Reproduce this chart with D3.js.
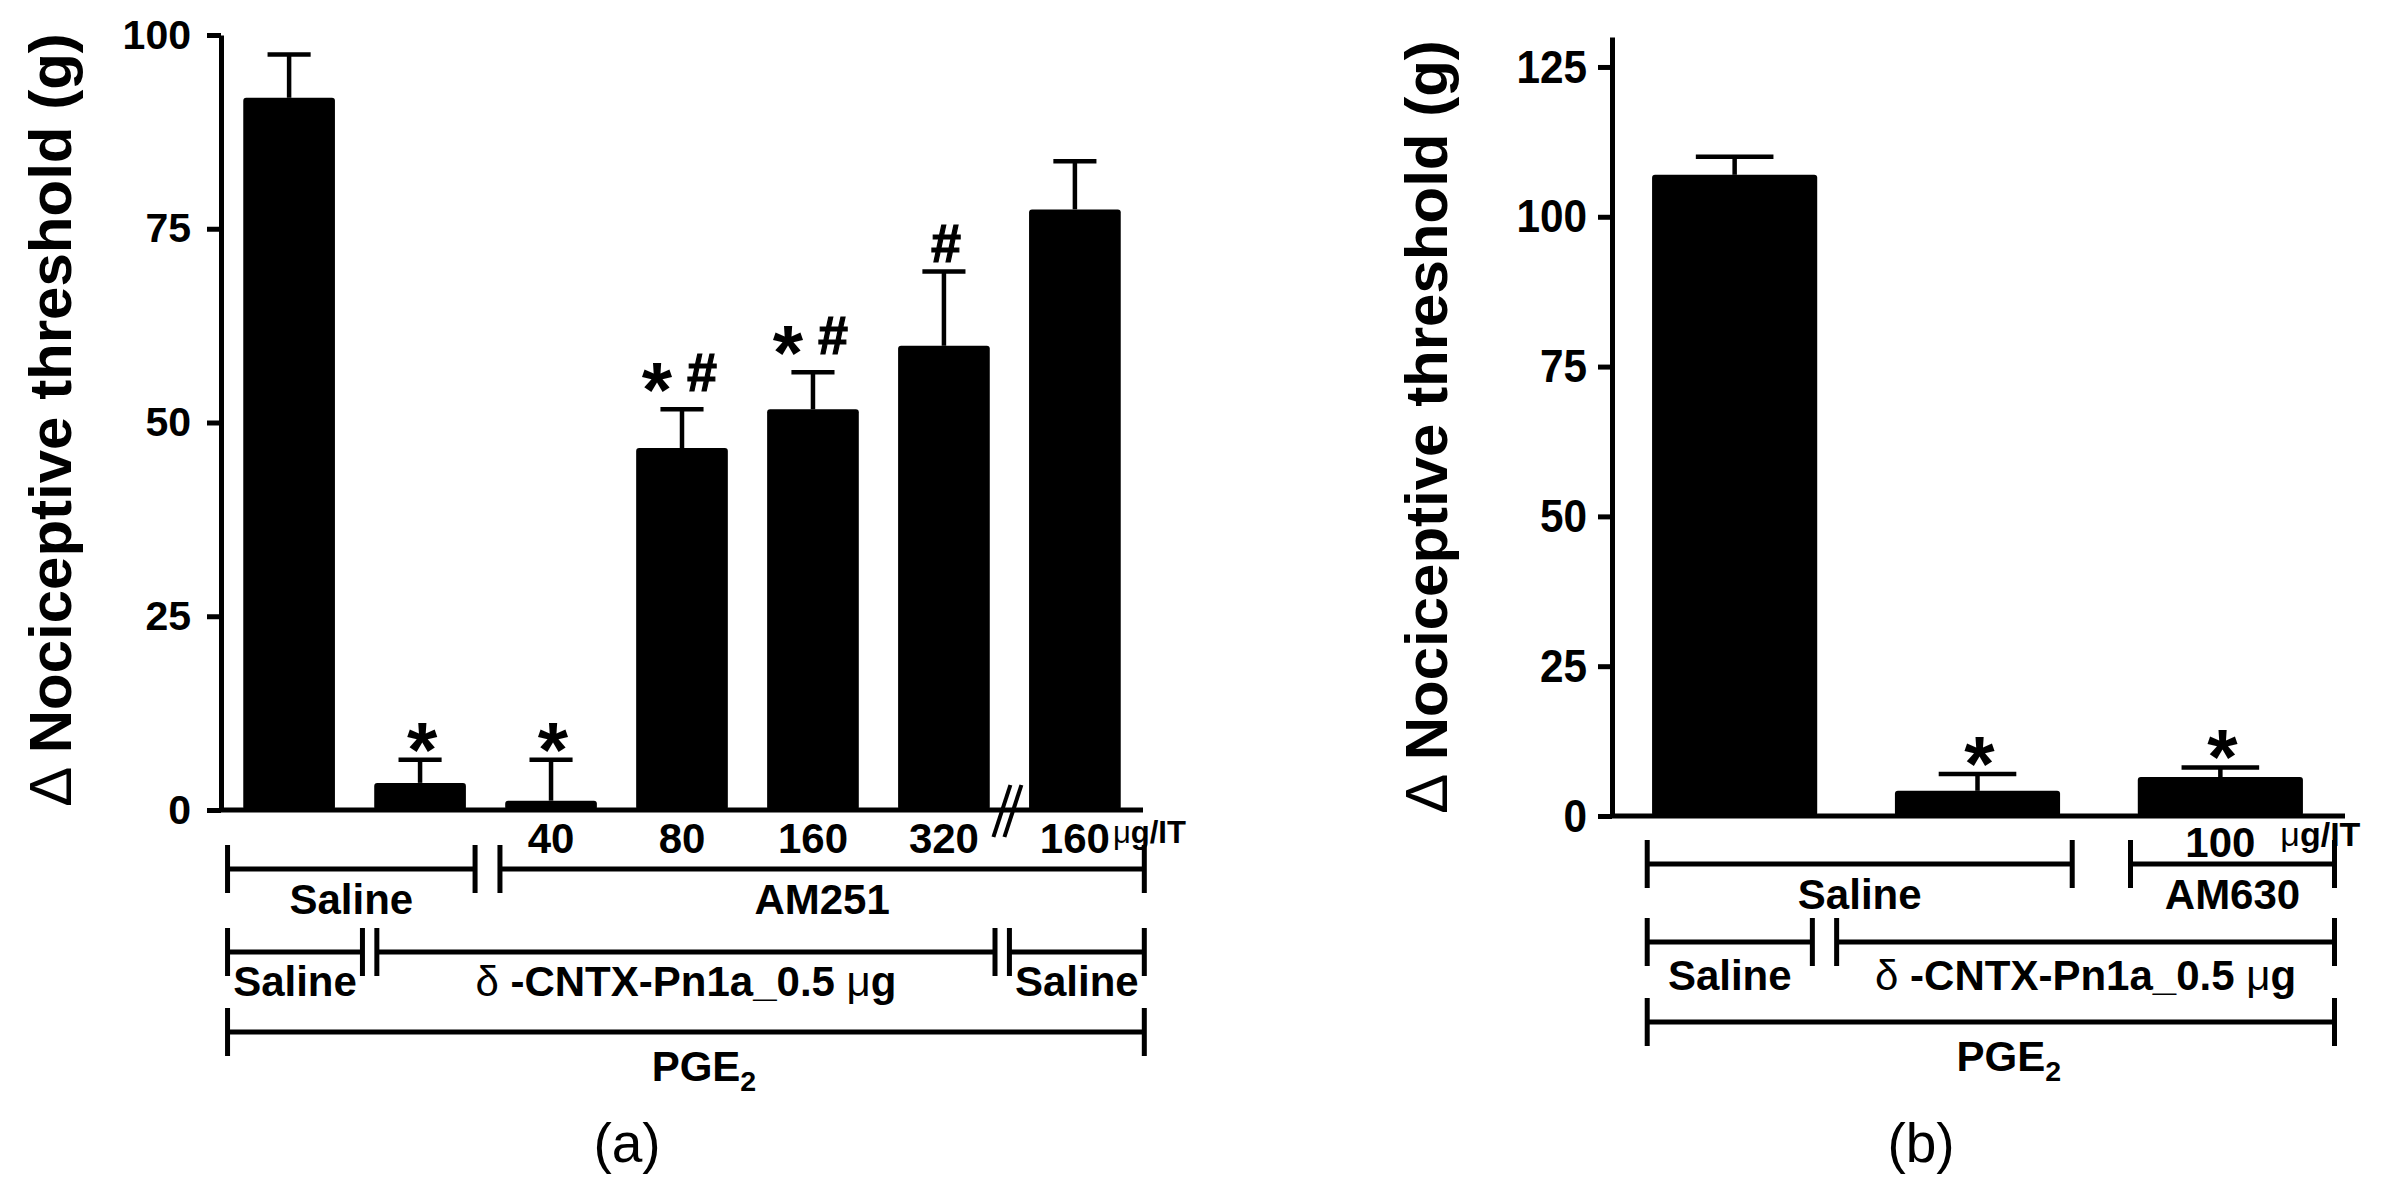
<!DOCTYPE html>
<html>
<head>
<meta charset="utf-8">
<script src="https://cdn.jsdelivr.net/npm/d3@7"></script>
<style>
body { margin: 0; background: #fff; }
text { font-family: "Liberation Sans", Arial, sans-serif; fill: #000; }
</style>
</head>
<body>
<script>
// Panel (a): PGE2 + d-CNTX-Pn1a with AM251
var groupsA = ["Sal/Sal", "Pn1a/Sal", "Pn1a/AM251-40", "Pn1a/AM251-80", "Pn1a/AM251-160", "Pn1a/AM251-320", "Sal/AM251-160"];
var meansA = [91.9, 3.5, 1.2, 46.7, 51.7, 59.9, 77.5];
var errA = [5.6, 3.0, 5.3, 5.0, 4.8, 9.6, 6.2];
var marksA = ["", "*", "*", "* #", "* #", "#", ""];
var dosesA = ["", "", "40", "80", "160", "320", "160"];
var ticksA = [0, 25, 50, 75, 100];

// Panel (b): PGE2 + d-CNTX-Pn1a with AM630
var groupsB = ["Sal/Sal", "Pn1a/Sal", "Pn1a/AM630-100"];
var meansB = [107, 4.2, 6.5];
var errB = [3.0, 2.8, 1.6];
var marksB = ["", "*", "*"];
var dosesB = ["", "", "100"];
var ticksB = [0, 25, 50, 75, 100, 125];

var yTitle = "Nociceptive threshold (g)";
var cntx = "δ-CNTX-Pn1a_0.5 μg";

// treatment brackets, spans given in bar-index units
var bracketsA = [
  {y: 869, dy: 45, segs: [["Saline", -0.47, 1.42], ["AM251", 1.61, 6.53]]},
  {y: 952, dy: 44, segs: [["Saline", -0.47, 0.56], [cntx, 0.67, 5.39], ["Saline", 5.50, 6.53]]},
  {y: 1032, dy: 49, segs: [["PGE2", -0.47, 6.53]]}
];
var bracketsB = [
  {y: 864, dy: 45, segs: [["Saline", -0.36, 1.39], ["AM630", 1.63, 2.47]]},
  {y: 942, dy: 48, segs: [["Saline", -0.36, 0.32], [cntx, 0.42, 2.47]]},
  {y: 1022, dy: 49, segs: [["PGE2", -0.36, 2.47]]}
];

var svg = d3.select("body").append("svg")
  .attr("width", 2393)
  .attr("height", 1192);

function addLabel(t, label, fs) {
  if (label === "PGE2") {
    t.append("tspan").text("PGE");
    t.append("tspan").attr("font-size", fs * 0.68).attr("dy", 10).text("2");
  } else if (label === cntx) {
    t.append("tspan").attr("font-weight", "normal").text("δ ");
    t.append("tspan").text("-CNTX-Pn1a_0.5 ");
    t.append("tspan").attr("font-weight", "normal").text("μ");
    t.append("tspan").text("g");
  } else {
    t.text(label);
  }
}

function drawPanel(p) {
  var g = svg.append("g");

  var x = d3.scaleBand()
    .domain(p.groups)
    .range(p.xRange)
    .paddingInner(p.padInner)
    .paddingOuter(p.padOuter);
  var bw = x.bandwidth();
  var cx = function(i) { return x(p.groups[0]) + bw / 2 + i * x.step(); };

  var y = d3.scaleLinear().domain(p.yDomain).range(p.yRange);

  // y axis
  var ax = g.append("g")
    .attr("transform", "translate(" + p.xRange[0] + ",0)")
    .call(d3.axisLeft(y).tickValues(p.ticks).tickSize(14).tickSizeOuter(0).tickPadding(p.tickPad));
  ax.selectAll("path, line").attr("stroke", "#000").attr("stroke-width", 5);
  ax.selectAll("text")
    .attr("font-size", p.tickFont)
    .attr("font-weight", "bold")
    .attr("font-family", "Liberation Sans, Arial, sans-serif")
    .attr("transform", "scale(" + p.tickScaleX + ",1)")
    .attr("x", -(14 + p.tickPad) / p.tickScaleX);

  // baseline
  g.append("line")
    .attr("x1", p.xRange[0]).attr("x2", p.axisEnd)
    .attr("y1", y(0)).attr("y2", y(0))
    .attr("stroke", "#000").attr("stroke-width", 5);

  // y title
  var tt = g.append("text")
    .attr("transform", "translate(" + p.titleX + "," + p.titleY + ") rotate(-90)")
    .attr("text-anchor", "middle")
    .attr("font-size", 60)
    .attr("font-weight", "bold");
  tt.append("tspan").attr("font-weight", "normal").text("Δ ");
  tt.append("tspan").text(yTitle);

  var data = p.groups.map(function(k, i) {
    return {key: k, mean: p.means[i], err: p.errs[i], mark: p.marks[i], dose: p.doses[i]};
  });

  // bars
  g.selectAll("rect.bar").data(data).enter().append("rect")
    .attr("class", "bar")
    .attr("x", function(d) { return x(d.key); })
    .attr("y", function(d) { return y(d.mean); })
    .attr("width", bw)
    .attr("height", function(d) { return y(0) - y(d.mean); })
    .attr("rx", 3)
    .attr("fill", "#000");

  // error bars
  var cap = bw * 0.47;
  var eb = g.selectAll("g.err").data(data).enter().append("g").attr("class", "err")
    .attr("transform", function(d) { return "translate(" + (x(d.key) + bw / 2) + ",0)"; });
  eb.append("line")
    .attr("y1", function(d) { return y(d.mean); })
    .attr("y2", function(d) { return y(d.mean + d.err); })
    .attr("stroke", "#000").attr("stroke-width", 4.5);
  eb.append("line")
    .attr("x1", -cap / 2).attr("x2", cap / 2)
    .attr("y1", function(d) { return y(d.mean + d.err); })
    .attr("y2", function(d) { return y(d.mean + d.err); })
    .attr("stroke", "#000").attr("stroke-width", 4.5);

  // significance marks
  eb.each(function(d) {
    var top = y(d.mean + d.err);
    var parts = d.mark.split(" ").filter(function(s) { return s; });
    var sel = d3.select(this);
    parts.forEach(function(s, j) {
      var dx = parts.length > 1 ? (j === 0 ? -25 : 20) : 2;
      var star = s === "*";
      var c = top - (parts.length > 1 ? 37 : 28);
      sel.append("text")
        .attr("x", dx)
        .attr("y", star ? c + 45 : c + 19)
        .attr("text-anchor", "middle")
        .attr("font-weight", "bold")
        .attr("font-size", star ? 78 : 54)
        .attr("stroke", star ? "none" : "#000")
        .attr("stroke-width", 1.2)
        .text(s);
    });
  });

  // dose labels
  g.selectAll("text.dose").data(data.filter(function(d) { return d.dose; })).enter().append("text")
    .attr("class", "dose")
    .attr("x", function(d) { return x(d.key) + bw / 2; })
    .attr("y", y(0) + p.doseDy)
    .attr("text-anchor", "middle")
    .attr("font-size", 42)
    .attr("font-weight", "bold")
    .text(function(d) { return d.dose; });

  var unit = g.append("text")
    .attr("x", x(p.groups[p.groups.length - 1]) + bw / 2 + p.unitDx)
    .attr("y", y(0) + p.unitDy)
    .attr("font-size", p.unitFont)
    .attr("font-weight", "bold");
  unit.append("tspan").attr("font-weight", "normal").text("μ");
  unit.append("tspan").text("g/IT");

  // axis break
  if (p.breakAt != null) {
    var bx = (x(p.groups[p.breakAt]) + x(p.groups[p.breakAt - 1]) + bw) / 2;
    [-8, 3].forEach(function(o) {
      g.append("line")
        .attr("x1", bx + o - 8).attr("y1", y(0) + 27)
        .attr("x2", bx + o + 9).attr("y2", y(0) - 25)
        .attr("stroke", "#000").attr("stroke-width", 4);
    });
  }

  // treatment brackets
  p.brackets.forEach(function(row) {
    row.segs.forEach(function(s) {
      var x1 = cx(s[1]), x2 = cx(s[2]);
      g.append("path")
        .attr("d", "M" + x1 + "," + row.y + "H" + x2 +
                   "M" + x1 + "," + (row.y - 24) + "V" + (row.y + 24) +
                   "M" + x2 + "," + (row.y - 24) + "V" + (row.y + 24))
        .attr("fill", "none").attr("stroke", "#000").attr("stroke-width", 5);
      var t = g.append("text")
        .attr("x", (x1 + x2) / 2 + (s[0] === "PGE2" ? 18 : 0))
        .attr("y", row.y + row.dy)
        .attr("text-anchor", "middle")
        .attr("font-size", 42)
        .attr("font-weight", "bold");
      addLabel(t, s[0], 42);
    });
  });

  // panel letter
  g.append("text")
    .attr("x", p.letterX).attr("y", 1162)
    .attr("text-anchor", "middle")
    .attr("font-size", 55)
    .text(p.letter);
}

drawPanel({
  groups: groupsA, means: meansA, errs: errA, marks: marksA, doses: dosesA, ticks: ticksA,
  xRange: [221, 1143], padInner: 0.3, padOuter: 0.17, axisEnd: 1143,
  yDomain: [0, 100], yRange: [810, 35],
  tickFont: 41, tickScaleX: 1, tickPad: 16,
  titleX: 71, titleY: 420,
  doseDy: 43, unitDx: 38, unitDy: 33, unitFont: 31, breakAt: 6,
  brackets: bracketsA, letter: "(a)", letterX: 627
});

drawPanel({
  groups: groupsB, means: meansB, errs: errB, marks: marksB, doses: dosesB, ticks: ticksB,
  xRange: [1612, 2343], padInner: 0.32, padOuter: 0.165, axisEnd: 2345,
  yDomain: [0, 130], yRange: [816, 37],
  tickFont: 47, tickScaleX: 0.9, tickPad: 11,
  titleX: 1447, titleY: 427,
  doseDy: 41, unitDx: 60, unitDy: 30, unitFont: 34, breakAt: null,
  brackets: bracketsB, letter: "(b)", letterX: 1921
});
</script>
</body>
</html>
